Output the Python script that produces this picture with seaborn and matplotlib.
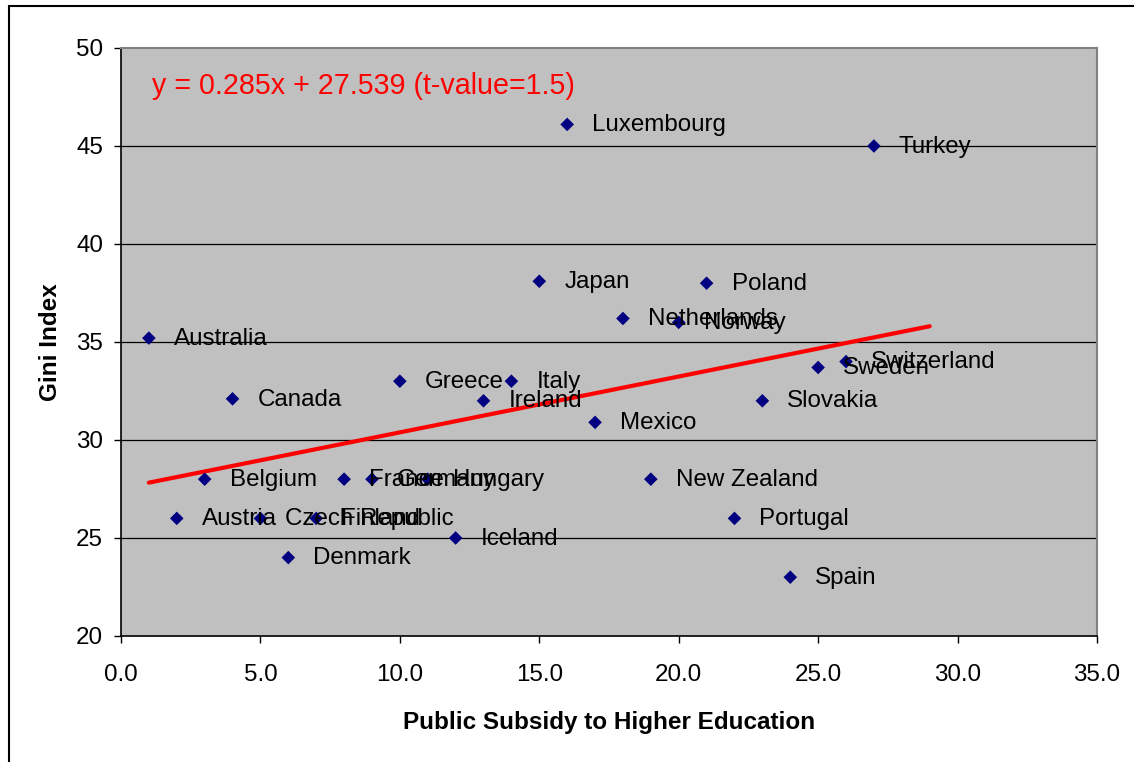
import matplotlib
matplotlib.use("Agg")
import matplotlib.pyplot as plt
import seaborn as sns
import pandas as pd
import numpy as np
from matplotlib.patches import Rectangle

# Countries in alphabetical order; x is the subsidy rank
countries = ["Australia", "Austria", "Belgium", "Canada", "Czech Republic",
             "Denmark", "Finland", "France", "Germany", "Greece", "Hungary",
             "Iceland", "Ireland", "Italy", "Japan", "Luxembourg", "Mexico",
             "Netherlands", "New Zealand", "Norway", "Poland", "Portugal",
             "Slovakia", "Spain", "Sweden", "Switzerland", "Turkey"]
subsidy = [1, 2, 3, 4, 5, 6, 7, 8, 9, 10, 11, 12, 13, 14, 15, 16, 17, 18,
           19, 20, 21, 22, 23, 24, 25, 26, 27]
gini = [35.2, 26.0, 28.0, 32.1, 26.0, 24.0, 26.0, 28.0, 28.0, 33.0, 28.0,
        25.0, 32.0, 33.0, 38.1, 46.1, 30.9, 36.2, 28.0, 36.0, 38.0, 26.0,
        32.0, 23.0, 33.7, 34.0, 45.0]

# Fitted trend line
slope = 0.285
intercept = 27.539
t_value = 1.5
trend_x = [1, 29]

x_ticks = [0, 5, 10, 15, 20, 25, 30, 35]
y_ticks = [20, 25, 30, 35, 40, 45, 50]

df = pd.DataFrame({"country": countries, "subsidy": subsidy, "gini": gini})

sns.set_style("white")
plt.rcParams["font.family"] = ["Liberation Sans", "DejaVu Sans"]
plt.rcParams["text.color"] = "black"
plt.rcParams["axes.labelcolor"] = "black"
plt.rcParams["xtick.color"] = "black"
plt.rcParams["ytick.color"] = "black"

fig = plt.figure(figsize=(11.34, 7.62), dpi=100)
ax = fig.add_axes([121 / 1134, 1 - 636 / 762, (1097 - 121) / 1134, (636 - 48) / 762])
ax.set_facecolor("#C0C0C0")

# Outer chart frame
fig.patches.append(Rectangle((9 / 1134, -0.05), 1.2, 1 - 6 / 762 + 0.05,
                             transform=fig.transFigure, fill=False,
                             edgecolor="black", linewidth=1.5, zorder=0))

# Horizontal gridlines
for yv in y_ticks[1:-1]:
    ax.axhline(yv, color="black", linewidth=0.9, zorder=1)

trend_y = [slope * xv + intercept for xv in trend_x]
sns.lineplot(x=trend_x, y=trend_y, ax=ax, color="#FF0000", linewidth=3,
             zorder=3)

sns.scatterplot(data=df, x="subsidy", y="gini", ax=ax, marker="D", s=48,
                color="#000080", edgecolor="none", zorder=4, legend=False)

for name, xv, yv in zip(countries, subsidy, gini):
    ax.annotate(name, (xv, yv), xytext=(18, -0.5), textcoords="offset points",
                ha="left", va="center", fontsize=17.4, color="black", zorder=5)

ax.text(0.032, 0.935,
        f"y = {slope:.3f}x + {intercept:.3f} (t-value={t_value})",
        transform=ax.transAxes, color="#FF0000", fontsize=20.6,
        ha="left", va="center", zorder=6)

ax.set_xlim(0, 35)
ax.set_ylim(20, 50)
ax.set_xticks(x_ticks)
ax.set_xticklabels([f"{v:.1f}" for v in x_ticks])
ax.set_yticks(y_ticks)
ax.set_yticklabels([str(v) for v in y_ticks])
ax.tick_params(axis="both", direction="out", length=5, width=1,
               color="black", labelcolor="black", labelsize=17.4,
               bottom=True, left=True)
ax.tick_params(axis="x", pad=15)
ax.tick_params(axis="y", pad=8)

for side in ["top", "right"]:
    ax.spines[side].set_visible(True)
    ax.spines[side].set_color("#808080")
    ax.spines[side].set_linewidth(1.5)
for side in ["left", "bottom"]:
    ax.spines[side].set_visible(True)
    ax.spines[side].set_color("black")
    ax.spines[side].set_linewidth(1.2)

ax.set_xlabel("Public Subsidy to Higher Education", fontsize=17.5,
              fontweight="bold", labelpad=18, color="black")
ax.set_ylabel("Gini Index", fontsize=17.5, fontweight="bold", labelpad=10,
              color="black")

fig.savefig("out.png", dpi=100, facecolor="white")
